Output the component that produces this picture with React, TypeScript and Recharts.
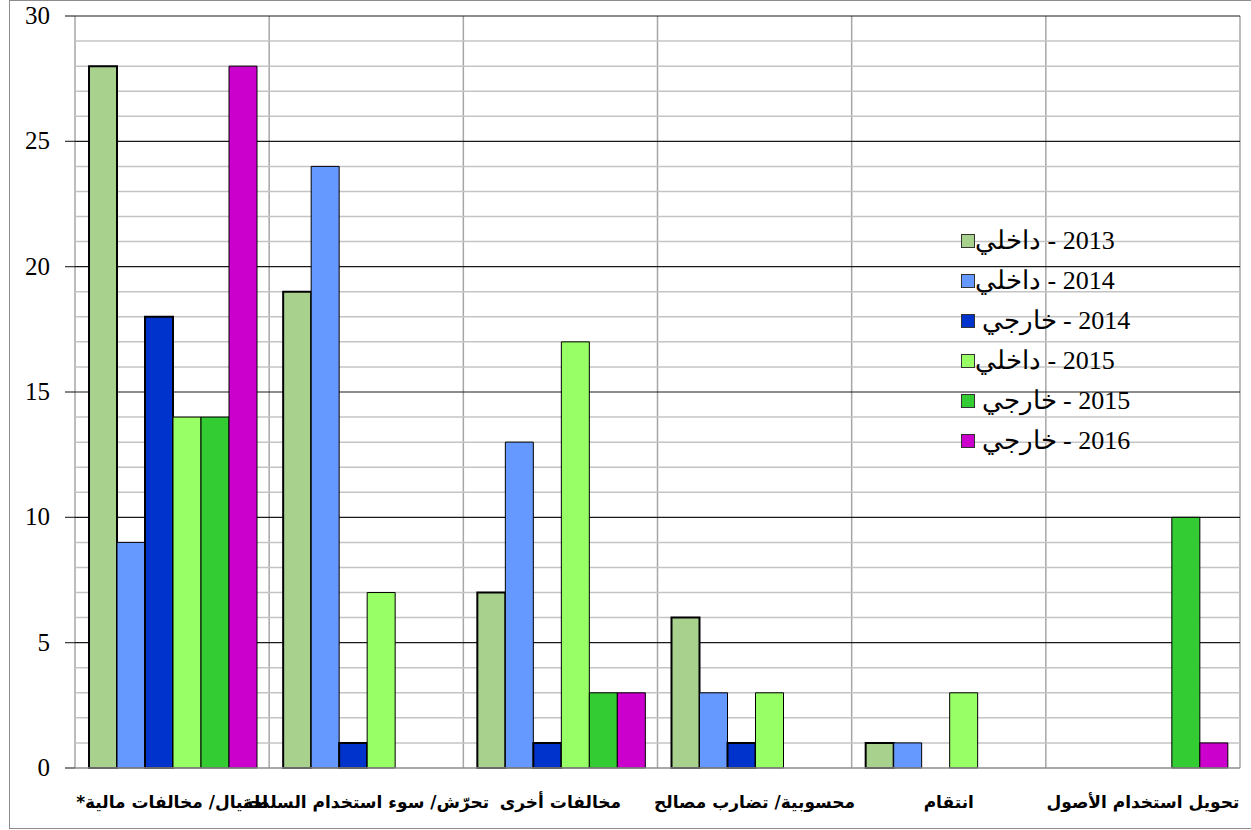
import React from 'react';
import { BarChart, Bar, XAxis, YAxis, CartesianGrid } from 'recharts';

const categories = [
  'احتيال/ مخالفات مالية*',
  'تحرّش/ سوء استخدام السلطة',
  'مخالفات أخرى',
  'محسوبية/ تضارب مصالح',
  'انتقام',
  'تحويل استخدام الأصول',
];

const internal2013 = [28, 19, 7, 6, 1, 0];
const internal2014 = [9, 24, 13, 3, 1, 0];
const external2014 = [18, 1, 1, 1, 0, 0];
const internal2015 = [14, 7, 17, 3, 3, 0];
const external2015 = [14, 0, 3, 0, 0, 10];
const external2016 = [28, 0, 3, 0, 0, 1];

const yTicks = [0, 5, 10, 15, 20, 25, 30];
const majorLines = [5, 10, 15, 20, 25, 30];
const minorLines = [1, 2, 3, 4, 6, 7, 8, 9, 11, 12, 13, 14, 16, 17, 18, 19, 21, 22, 23, 24, 26, 27, 28, 29];

const SERIF = 'Liberation Serif, Times New Roman, Times, serif';

const series = [
  { key: 'i2013', name: '2013 - داخلي', values: internal2013, fill: '#a9d18e', strokeWidth: 2 },
  { key: 'i2014', name: '2014 - داخلي', values: internal2014, fill: '#6699ff', strokeWidth: 1 },
  { key: 'e2014', name: '2014 - خارجي ', values: external2014, fill: '#0033cc', strokeWidth: 2 },
  { key: 'i2015', name: '2015 - داخلي', values: internal2015, fill: '#99ff66', strokeWidth: 1 },
  { key: 'e2015', name: '2015 - خارجي ', values: external2015, fill: '#33cc33', strokeWidth: 1 },
  { key: 'e2016', name: '2016 - خارجي ', values: external2016, fill: '#cc00cc', strokeWidth: 1 },
];

const data = categories.map((name, i) => {
  const row: Record<string, string | number> = { name };
  series.forEach((s) => {
    row[s.key] = s.values[i];
  });
  return row;
});

const CategoryTick = (props: any) => {
  const { x, y, payload } = props;
  return (
    <text
      x={x}
      y={y + 38}
      textAnchor="middle"
      direction="rtl"
      style={{ fontFamily: 'DejaVu Sans, sans-serif', fontWeight: 'bold', fontSize: 17 }}
      fill="#000"
    >
      {payload.value}
    </text>
  );
};

const YTick = (props: any) => {
  const { x, y, payload } = props;
  return (
    <text x={x} y={y} dy={8} textAnchor="end" style={{ fontFamily: SERIF, fontSize: 25 }} fill="#000">
      {payload.value}
    </text>
  );
};

const bandLines = ({ offset }: any) => {
  const left = offset?.left ?? 75;
  const width = offset?.width ?? 1165;
  const lines = categories.map((_, i) => left + (width * i) / categories.length);
  lines.push(left + width);
  return lines;
};

export default function App() {
  return (
    <div style={{ position: 'absolute', left: 0, top: 0, width: 1251, height: 830, background: '#fff', fontFamily: SERIF }}>
      <div style={{ position: 'absolute', left: 9, top: 0, width: 1250, height: 829, border: '1px solid #8c8c8c', boxSizing: 'border-box' }} />
      <BarChart
        width={1251}
        height={830}
        data={data}
        margin={{ top: 16, right: 11, bottom: 22, left: 0 }}
        barCategoryGap={14}
        barGap={0}
        style={{ position: 'absolute', left: 0, top: 0 }}
      >
        <CartesianGrid horizontal={false} vertical verticalCoordinatesGenerator={bandLines} stroke="#a6a6a6" strokeWidth={1.5} />
        <CartesianGrid horizontalValues={minorLines} vertical={false} stroke="#c4c4c4" strokeWidth={1.5} />
        <CartesianGrid horizontalValues={majorLines} vertical={false} stroke="#1a1a1a" strokeWidth={1.2} />
        <XAxis
          dataKey="name"
          interval={0}
          tickLine={false}
          tickSize={0}
          height={40}
          axisLine={{ stroke: '#8c8c8c', strokeWidth: 1.5 }}
          tick={<CategoryTick />}
        />
        <YAxis
          width={75}
          domain={[0, 30]}
          ticks={yTicks}
          interval={0}
          axisLine={false}
          tickSize={10}
          tickMargin={15}
          tickLine={{ stroke: '#333', strokeWidth: 1.2 }}
          tick={<YTick />}
        />
        {series.map((s) => (
          <Bar
            key={s.key}
            dataKey={s.key}
            name={s.name}
            fill={s.fill}
            stroke="#000"
            strokeWidth={s.strokeWidth}
            isAnimationActive={false}
          />
        ))}
      </BarChart>
      <div style={{ position: 'absolute', left: 961, top: 221 }}>
        {series.map((s) => (
          <div key={s.key} style={{ display: 'flex', alignItems: 'center', height: 40 }}>
            <span style={{ width: 14, height: 14, background: s.fill, border: '1px solid #333', boxSizing: 'border-box', display: 'inline-block' }} />
            <span dir="rtl" style={{ fontFamily: SERIF, fontSize: 26, whiteSpace: 'pre', lineHeight: '40px', color: '#000' }}>
              {s.name}
            </span>
          </div>
        ))}
      </div>
    </div>
  );
}
